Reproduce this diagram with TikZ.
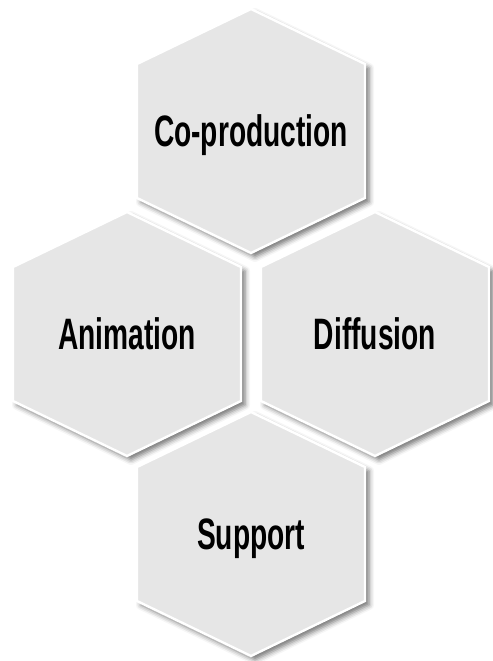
\documentclass[tikz,border=0pt]{standalone}
\usepackage{fontspec}
\newfontfamily\hexfont[FakeStretch=0.64]{Liberation Sans}
\usetikzlibrary{shadows.blur}
\definecolor{hexgray}{RGB}{230,230,230}
\tikzset{
	hexcell/.style={fill=hexgray, draw=white, line width=1.2pt,
		blur shadow={shadow xshift=2pt, shadow yshift=-2pt, shadow blur radius=2.5pt, shadow opacity=55}},
	hexlabel/.style={anchor=base, inner sep=0pt, yshift=-7.9pt}
}
\begin{document}
\begin{tikzpicture}[x=0.5pt,y=0.5pt]
			\newcommand{\myfontlabel}[1]{
				\hexfont\fontsize{22}{26}\selectfont\bfseries{#1}
			}\newcommand{\myhexcell}[1]{
				\draw [hexcell, shift={(#1)}] (0,122) -- (114,67) -- (114,-67) -- (0,-122) -- (-114,-67) -- (-114,67) -- cycle;
			}%Page frame
			\useasboundingbox (0,0) rectangle (493,661);
			%Centers of the cells
			\coordinate (top) at (251,530);
			\coordinate (left) at (127,327);
			\coordinate (right) at (375,327);
			\coordinate (bottom) at (251,127);
			%The hexagons
			\myhexcell{top}
			\myhexcell{left}
			\myhexcell{right}
			\myhexcell{bottom}
			%Labels in the cells
			\node [hexlabel] (coprod) at (top) {\myfontlabel{Co-production}};
			\node [hexlabel] (anim) at (left) {\myfontlabel{Animation}};
			\node [hexlabel] (diff) at (right) {\myfontlabel{Diffusion}};
			\node [hexlabel] (supp) at (bottom) {\myfontlabel{Support}};
\end{tikzpicture}
\end{document}
